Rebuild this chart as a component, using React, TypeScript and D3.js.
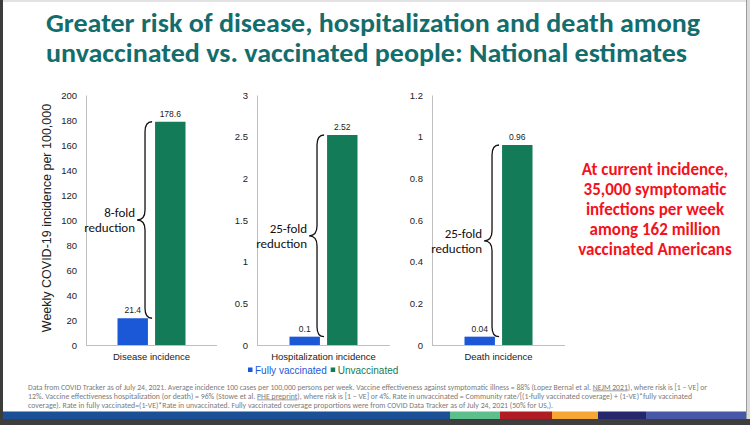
import React, { useEffect, useRef } from "react";
import * as d3 from "d3";

// values
const categories = ["Disease incidence", "Hospitalization incidence", "Death incidence"];
const seriesNames = ["Fully vaccinated", "Unvaccinated"];
const fullyVaccinated = [21.4, 0.1, 0.04];
const unvaccinated = [178.6, 2.52, 0.96];
const axisMax = [200, 3, 1.2];
const axisTicks = [
  [0, 20, 40, 60, 80, 100, 120, 140, 160, 180, 200],
  [0, 0.5, 1, 1.5, 2, 2.5, 3],
  [0, 0.2, 0.4, 0.6, 0.8, 1, 1.2],
];
const foldLabels = ["8-fold", "25-fold", "25-fold"];
const yTitle = "Weekly COVID-19 incidence per 100,000";
const titleLines = [
  "Greater risk of disease, hospitalization and death among",
  "unvaccinated vs. vaccinated people: National estimates",
];
const calloutLines = [
  "At current incidence,",
  "35,000 symptomatic",
  "infections per week",
  "among 162 million",
  "vaccinated Americans",
];
// [text, underlined]
const footnoteLines: [string, boolean][][] = [
  [
    ["Data from COVID Tracker as of July 24, 2021. Average incidence 100 cases per 100,000 persons per week. Vaccine effectiveness against symptomatic illness = 88% (Lopez Bernal et al. ", false],
    ["NEJM 2021", true],
    ["), where risk is [1 \u2013 VE] or", false],
  ],
  [
    ["12%. Vaccine effectiveness hospitalization (or death) = 96% (Stowe et al. ", false],
    ["PHE preprint", true],
    ["), where risk is [1 \u2013 VE] or 4%.  Rate in unvaccinated = Community rate/[(1-fully vaccinated coverage) + (1-VE)*fully vaccinated", false],
  ],
  [
    ["coverage). Rate in fully vaccinated=(1-VE)*Rate in unvaccinated. Fully vaccinated coverage proportions were from COVID Data Tracker as of July 24, 2021 (50% for US,).", false],
  ],
];

const W = 750;
const H = 425;
const SANS = "'Liberation Sans', Arial, sans-serif";
const CAL = "Carlito, Lato, 'Open Sans', sans-serif";
const BLUE = "#1b58d8";
const GREEN = "#137b57";
const TEAL = "#136d6d";

function bracePath(x: number, y0: number, y1: number, w: number) {
  const p = d3.path();
  const xl = x - w * 0.47;
  const xt = x - w;
  const ym = (y0 + y1) / 2;
  const r = 10;
  p.moveTo(x, y0);
  p.quadraticCurveTo(xl, y0, xl, y0 + r);
  p.lineTo(xl, ym - r);
  p.quadraticCurveTo(xl, ym, xt, ym);
  p.quadraticCurveTo(xl, ym, xl, ym + r);
  p.lineTo(xl, y1 - r);
  p.quadraticCurveTo(xl, y1, x, y1);
  return p.toString();
}

const Chart: React.FC = () => {
  const svgRef = useRef<SVGSVGElement | null>(null);

  useEffect(() => {
    if (!svgRef.current) return;
    const svg = d3.select(svgRef.current);
    svg.selectAll("*").remove();

    svg.append("rect").attr("width", W).attr("height", H).attr("fill", "#fff");

    // slide frame
    svg.append("rect").attr("x", 0).attr("y", 0).attr("width", W).attr("height", 2).attr("fill", "#e2e2e2");
    svg.append("rect").attr("x", 0).attr("y", 0).attr("width", 3).attr("height", H).attr("fill", "#3c3c3c");
    svg.append("rect").attr("x", 746).attr("y", 0).attr("width", 4).attr("height", H).attr("fill", "#dcdcdc");
    svg.append("rect").attr("x", 746).attr("y", 0).attr("width", 1).attr("height", H).attr("fill", "#9a9a9a");

    // title
    const title = svg.append("g").attr("font-family", CAL).attr("font-weight", 700).attr("fill", TEAL).attr("font-size", 27);
    const titleWidths = [654, 641];
    titleLines.forEach((t, i) => {
      title.append("text").attr("x", 46).attr("y", 32 + i * 30)
        .attr("textLength", titleWidths[i]).attr("lengthAdjust", "spacingAndGlyphs").text(t);
    });

    const panelX = [[86, 217], [257, 390], [432, 565]];
    const top = 95;
    const bottom = 345;

    categories.forEach((cat, i) => {
      const [x0, x1] = panelX[i];
      const y = d3.scaleLinear().domain([0, axisMax[i]]).range([bottom, top]);
      const xCat = d3.scaleBand().domain([cat]).range([x0, x1]);
      const c = xCat(cat)! + xCat.bandwidth() / 2;
      const xSub = d3.scaleBand().domain(seriesNames).range([c - 34, c + 34]).paddingInner(0.19);
      const vals = [fullyVaccinated[i], unvaccinated[i]];
      const g = svg.append("g");

      const yAxis = g.append("g").attr("transform", `translate(${x0},0)`)
        .call(d3.axisLeft(y).tickValues(axisTicks[i]).tickSize(0).tickPadding(9).tickFormat((d) => String(d)));
      yAxis.select(".domain").attr("stroke", "#bfbfbf").attr("stroke-width", 1);
      yAxis.selectAll("text").attr("font-family", SANS).attr("font-size", 9.5).attr("fill", "#222");

      g.append("line").attr("x1", x0).attr("x2", x1).attr("y1", bottom + 0.5).attr("y2", bottom + 0.5)
        .attr("stroke", "#bfbfbf");

      g.selectAll("rect.bar").data(seriesNames).enter().append("rect").attr("class", "bar")
        .attr("x", (s) => xSub(s)!)
        .attr("width", xSub.bandwidth())
        .attr("y", (s, j) => y(vals[j]))
        .attr("height", (s, j) => bottom - y(vals[j]))
        .attr("fill", (s, j) => (j === 0 ? BLUE : GREEN));

      g.selectAll("text.val").data(seriesNames).enter().append("text").attr("class", "val")
        .attr("x", (s) => xSub(s)! + xSub.bandwidth() / 2)
        .attr("y", (s, j) => y(vals[j]) - 5)
        .attr("text-anchor", "middle").attr("font-family", SANS).attr("font-size", 8.5).attr("fill", "#222")
        .text((s, j) => String(vals[j]));

      g.append("text").attr("x", c).attr("y", 360).attr("text-anchor", "middle")
        .attr("font-family", SANS).attr("font-size", 9.5).attr("fill", "#222").text(cat);

      // brace + fold reduction
      const xe = xSub(seriesNames[1])! - 3;
      const w = 15;
      const y0 = y(unvaccinated[i]);
      const y1 = y(fullyVaccinated[i]);
      const ym = (y0 + y1) / 2;
      g.append("path").attr("d", bracePath(xe, y0, y1, w)).attr("fill", "none")
        .attr("stroke", "#111").attr("stroke-width", 1.3);
      const lab = g.append("text").attr("font-family", CAL).attr("font-size", 13).attr("fill", "#111")
        .attr("text-anchor", "end");
      lab.append("tspan").attr("x", xe - w - 2).attr("y", ym - 3).text(foldLabels[i]);
      lab.append("tspan").attr("x", xe - w - 2).attr("y", ym + 12).text("reduction");
    });

    // y axis title
    svg.append("text").attr("transform", "translate(51,218) rotate(-90)").attr("text-anchor", "middle")
      .attr("font-family", SANS).attr("font-size", 12.5).attr("fill", "#222").text(yTitle);

    // legend
    const legend = svg.append("g").attr("font-family", SANS).attr("font-size", 10);
    let lx = 248;
    seriesNames.forEach((s, j) => {
      const col = j === 0 ? BLUE : GREEN;
      legend.append("rect").attr("x", lx).attr("y", 367.5).attr("width", 4.5).attr("height", 4.5).attr("fill", col);
      const t = legend.append("text").attr("x", lx + 7).attr("y", 374).attr("fill", col).text(s);
      const tw = (t.node() as SVGTextElement).getComputedTextLength();
      lx += tw + 11;
    });

    // callout
    const callout = svg.append("g").attr("font-family", CAL).attr("font-weight", 700).attr("font-size", 17)
      .attr("fill", "#f5121c").attr("text-anchor", "middle");
    calloutLines.forEach((t, i) => {
      callout.append("text").attr("x", 655).attr("y", 175 + i * 20).text(t);
    });

    // footnote
    const footWidths = [679, 664, 525];
    const foot = svg.append("g").attr("font-family", CAL).attr("font-size", 7.6).attr("fill", "#7a7a7a");
    footnoteLines.forEach((segs, i) => {
      const t = foot.append("text").attr("x", 28).attr("y", 389.5 + i * 9)
        .attr("textLength", footWidths[i]).attr("lengthAdjust", "spacingAndGlyphs");
      segs.forEach(([s, u]) => {
        const sp = t.append("tspan").text(s);
        if (u) sp.attr("text-decoration", "underline");
      });
    });

    // bottom colour stripe
    const stripes: [number, number, string][] = [
      [3, 450, "#1b4f96"],
      [450, 500, "#5cbf8c"],
      [500, 552, "#b01c24"],
      [552, 598, "#f6a632"],
      [598, 646, "#26266a"],
      [646, 746, "#4858a8"],
    ];
    stripes.forEach(([a, b, col]) => {
      svg.append("rect").attr("x", a).attr("y", 411.5).attr("width", b - a).attr("height", 7.5).attr("fill", col);
    });
    svg.append("rect").attr("x", 0).attr("y", 419).attr("width", W).attr("height", 6).attr("fill", "#3e3e3e");
  }, []);

  return <svg ref={svgRef} width={W} height={H} style={{ display: "block" }} />;
};

export default function App() {
  return (
    <div style={{ position: "absolute", left: 0, top: 0, width: W, height: H }}>
      <Chart />
    </div>
  );
}
